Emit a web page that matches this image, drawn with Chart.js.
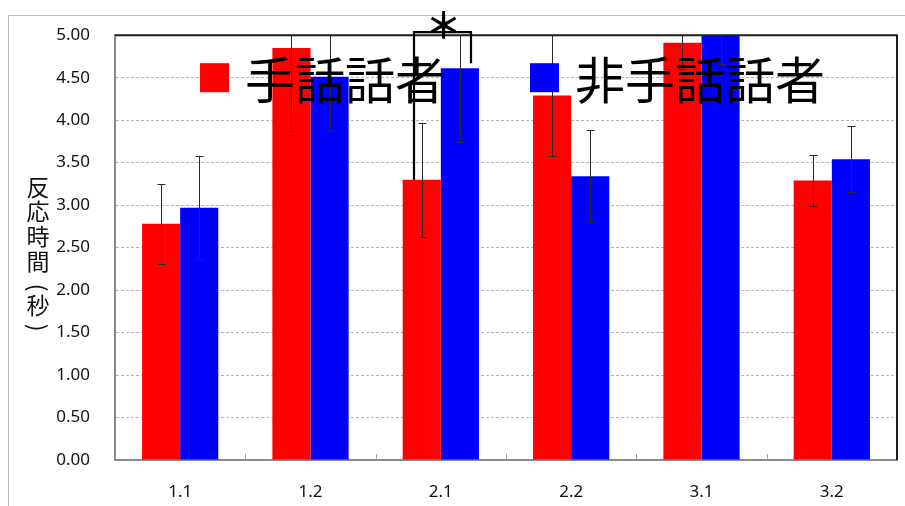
<!DOCTYPE html>
<html>
<head>
<meta charset="utf-8">
<script src="https://cdn.jsdelivr.net/npm/chart.js@4.4.1/dist/chart.umd.min.js"></script>
<style>
  html, body { margin: 0; padding: 0; background: #fff; }
  #wrap { position: relative; width: 905px; height: 506px; overflow: hidden; }
  #frame { position: absolute; left: 8px; top: 15px; width: 910px; height: 500px;
           border-left: 1px solid #bdbdbd; border-top: 1px solid #bdbdbd; }
  canvas { position: absolute; left: 0; top: 0; }
</style>
</head>
<body>
<div id="wrap">
  <div id="frame"></div>
  <canvas id="c" width="905" height="506"></canvas>
</div>
<script>
// Mean reaction times (s) and their standard deviations per condition
const categories    = ['1.1', '1.2', '2.1', '2.2', '3.1', '3.2'];
const signers       = [2.78, 4.85, 3.30, 4.29, 4.91, 3.29];
const signersErr    = [0.47, 1.02, 0.67, 0.71, 0.31, 0.30];
const nonSigners    = [2.97, 4.51, 4.61, 3.34, 5.05, 3.54];
const nonSignersErr = [0.61, 0.64, 0.87, 0.54, 0.39, 0.39];
const yMin = 0, yMax = 5, yStep = 0.5;
const yTitleChars = ['反', '応', '時', '間', '(', '秒', ')'];
const seriesNames = ['手話話者', '非手話話者'];
const seriesColors = ['#ff0000', '#0000ff'];
const sigCategory = 2;   // 2.1: significant difference
const sigMark = '＊';

const errorSets = [signersErr, nonSignersErr];

const decor = {
  id: 'decor',
  afterDatasetsDraw(chart) {
    const { ctx, chartArea: a, scales: { x, y } } = chart;
    ctx.save();

    // error bars (clipped to the plot area)
    ctx.strokeStyle = '#2a2a2a';
    ctx.lineWidth = 1;
    chart.data.datasets.forEach((ds, i) => {
      const meta = chart.getDatasetMeta(i);
      meta.data.forEach((el, j) => {
        const v = ds.data[j], e = errorSets[i][j];
        const px = Math.round(el.x) + 0.5;
        const yHi = y.getPixelForValue(v + e);
        const yLo = y.getPixelForValue(v - e);
        const t = Math.max(yHi, a.top), b = Math.min(yLo, a.bottom);
        ctx.beginPath();
        ctx.moveTo(px, t); ctx.lineTo(px, b);
        if (yHi >= a.top) { ctx.moveTo(px - 4, Math.round(yHi) + 0.5); ctx.lineTo(px + 4, Math.round(yHi) + 0.5); }
        if (yLo <= a.bottom) { ctx.moveTo(px - 4, Math.round(yLo) + 0.5); ctx.lineTo(px + 4, Math.round(yLo) + 0.5); }
        ctx.stroke();
      });
    });

    // small inward tick marks between categories
    ctx.strokeStyle = '#a0a0a0';
    ctx.lineWidth = 1;
    for (let k = 1; k < categories.length; k++) {
      const bx = Math.round((x.getPixelForValue(k - 1) + x.getPixelForValue(k)) / 2) + 0.5;
      ctx.beginPath();
      ctx.moveTo(bx, a.bottom); ctx.lineTo(bx, a.bottom - 6);
      ctx.stroke();
    }

    // dark top and right edges of the plot frame
    ctx.strokeStyle = '#1e1e1e';
    ctx.lineWidth = 2;
    ctx.beginPath();
    ctx.moveTo(a.left, a.top); ctx.lineTo(a.right, a.top); ctx.lineTo(a.right, a.bottom);
    ctx.stroke();
    ctx.restore();
  },
  afterDraw(chart) {
    const { ctx, chartArea: a } = chart;
    ctx.save();

    // legend inside the plot
    const legendItems = [
      { box: a.left + 85, text: a.left + 130 },
      { box: a.left + 415, text: a.left + 460 }
    ];
    ctx.font = '50px "Noto Sans CJK JP"';
    ctx.textBaseline = 'middle';
    ctx.textAlign = 'left';
    legendItems.forEach((it, i) => {
      ctx.fillStyle = seriesColors[i];
      ctx.fillRect(it.box, a.top + 28, 29, 29);
      ctx.fillStyle = '#000';
      ctx.fillText(seriesNames[i], it.text, a.top + 45);
    });

    // significance bracket for category 2.1
    const r = chart.getDatasetMeta(0).data[sigCategory];
    const b = chart.getDatasetMeta(1).data[sigCategory];
    const xl = Math.round(r.x) - 8, xr = Math.round(b.x) + 11;
    const yt = a.top - 3;
    ctx.strokeStyle = '#000';
    ctx.lineWidth = 2.2;
    ctx.beginPath();
    ctx.moveTo(xl, r.y); ctx.lineTo(xl, yt); ctx.lineTo(xr, yt); ctx.lineTo(xr, b.y - 5);
    ctx.stroke();
    ctx.fillStyle = '#000';
    ctx.font = 'bold 36px "Noto Sans CJK JP"';
    ctx.textAlign = 'center';
    ctx.textBaseline = 'middle';
    ctx.fillText(sigMark, (xl + xr) / 2 + 1, yt - 7);

    // vertical axis title: characters stacked top to bottom,
    // parentheses turned a quarter so they open along the column
    ctx.font = '23px "Noto Sans CJK JP"';
    ctx.fillStyle = '#111';
    const mid = (a.top + a.bottom) / 2;
    const offsets = [-60, -36, -11, 14, 40, 58, 80];
    yTitleChars.forEach((ch, i) => {
      const cy = mid + offsets[i];
      if (ch === '(' || ch === ')') {
        ctx.save();
        ctx.translate(38, cy);
        ctx.rotate(Math.PI / 2);
        ctx.fillText(ch, 0, 0);
        ctx.restore();
      } else {
        ctx.fillText(ch, 38, cy);
      }
    });
    ctx.restore();
  }
};

new Chart(document.getElementById('c'), {
  type: 'bar',
  data: {
    labels: categories,
    datasets: [
      { label: seriesNames[0], data: signers, backgroundColor: seriesColors[0], borderWidth: 0 },
      { label: seriesNames[1], data: nonSigners, backgroundColor: seriesColors[1], borderWidth: 0 }
    ]
  },
  options: {
    responsive: false,
    devicePixelRatio: 1,
    animation: false,
    layout: { padding: { top: 33, right: 8, bottom: 0, left: 0 } },
    datasets: { bar: { categoryPercentage: 0.585, barPercentage: 1.0 } },
    plugins: { legend: { display: false }, tooltip: { enabled: false } },
    scales: {
      x: {
        grid: { display: false },
        border: { color: '#8a8a8a', width: 2 },
        ticks: { color: '#111', padding: 14, font: { family: 'Noto Sans', size: 17 } },
        afterFit(s) { s.height = 46; }
      },
      y: {
        min: yMin, max: yMax,
        grid: { color: '#b4b4b4', lineWidth: 1, drawTicks: false },
        border: { color: '#8a8a8a', width: 2, dash: [3, 2] },
        ticks: {
          stepSize: yStep, padding: 25, color: '#111',
          font: { family: 'Noto Sans', size: 17 },
          callback: v => Number(v).toFixed(2)
        },
        afterFit(s) { s.width = 115; }
      }
    }
  },
  plugins: [decor]
});
</script>
</body>
</html>
